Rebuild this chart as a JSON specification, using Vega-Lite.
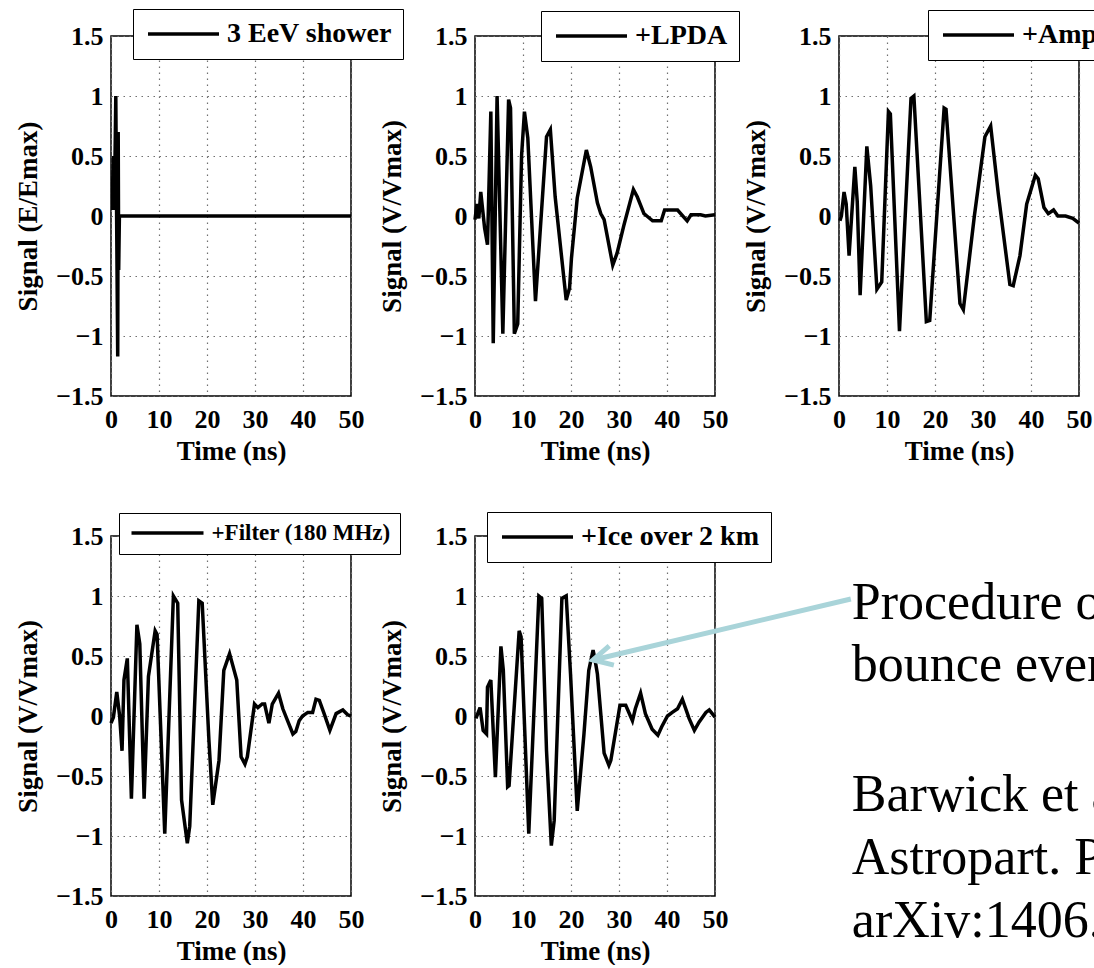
{
  "$schema": "https://vega.github.io/schema/vega-lite/v6.json",
  "background": "white",
  "padding": {"left": 13, "top": 7, "right": 0, "bottom": 0},
  "spacing": 45,
  "resolve": {"scale": {"color": "independent"}, "legend": {"color": "independent"}},
  "config": {
    "font": "Liberation Serif",
    "view": {"stroke": "black", "strokeWidth": 1.5},
    "axis": {
      "labelFont": "Liberation Serif", "labelFontWeight": "bold", "labelFontSize": 26, "labelColor": "black",
      "titleFont": "Liberation Serif", "titleFontWeight": "bold", "titleFontSize": 27, "titleColor": "black",
      "ticks": false, "domain": false, "grid": true, "gridColor": "#707070", "gridDash": [1.5, 4.5], "gridWidth": 1.2,
      "labelFlush": false, "labelOverlap": false
    },
    "axisX": {"labelPadding": 10, "titleBaseline": "alphabetic", "titleY": 63},
    "axisY": {"labelPadding": 8, "titleBaseline": "alphabetic", "titleX": -75},
    "legend": {
      "orient": "none", "title": null, "fillColor": "white", "strokeColor": "black", "padding": 11,
      "symbolType": "stroke", "symbolSize": 5041, "symbolStrokeWidth": 3.5, "symbolOffset": 2,
      "labelFont": "Liberation Serif", "labelFontWeight": "bold", "labelFontSize": 28, "labelColor": "black",
      "labelOffset": 6, "labelLimit": 500, "clipHeight": 28
    }
  },
  "datasets": {
    "shower": [
      {"t": 0, "v": 0.25}, {"t": 0.2, "v": 0.05}, {"t": 0.5, "v": 0.5}, {"t": 0.7, "v": 0.05},
      {"t": 1.0, "v": 1.0}, {"t": 1.15, "v": 0.1}, {"t": 1.4, "v": -1.17}, {"t": 1.5, "v": 0.7},
      {"t": 1.6, "v": -0.45}, {"t": 1.75, "v": 0}, {"t": 2, "v": 0}, {"t": 50, "v": 0}
    ],
    "lpda": [
      {"t": 0, "v": -0.03}, {"t": 0.4, "v": 0.1}, {"t": 0.8, "v": -0.02}, {"t": 1.2, "v": 0.2},
      {"t": 1.6, "v": 0.05}, {"t": 2.0, "v": -0.1}, {"t": 2.6, "v": -0.24}, {"t": 3.3, "v": 0.87},
      {"t": 3.8, "v": -1.06}, {"t": 4.6, "v": 1.0}, {"t": 5.8, "v": -0.98}, {"t": 7.0, "v": 0.97},
      {"t": 7.4, "v": 0.9}, {"t": 8.2, "v": -0.98}, {"t": 8.9, "v": -0.9}, {"t": 9.7, "v": 0.5},
      {"t": 10.3, "v": 0.87}, {"t": 11.0, "v": 0.65}, {"t": 12.6, "v": -0.71}, {"t": 14.9, "v": 0.66},
      {"t": 15.7, "v": 0.72}, {"t": 16.7, "v": 0.16}, {"t": 19.0, "v": -0.7}, {"t": 19.7, "v": -0.6},
      {"t": 20.1, "v": -0.35}, {"t": 21.3, "v": 0.15}, {"t": 23.2, "v": 0.55}, {"t": 24.1, "v": 0.41},
      {"t": 25.5, "v": 0.11}, {"t": 26.2, "v": 0.02}, {"t": 26.9, "v": -0.03}, {"t": 28.7, "v": -0.41},
      {"t": 29.6, "v": -0.31}, {"t": 31.0, "v": -0.08}, {"t": 33.0, "v": 0.22}, {"t": 33.8, "v": 0.16},
      {"t": 35.2, "v": 0.02}, {"t": 35.8, "v": 0}, {"t": 37.0, "v": -0.04}, {"t": 38.8, "v": -0.04},
      {"t": 39.5, "v": 0.05}, {"t": 42.2, "v": 0.05}, {"t": 43.5, "v": -0.01}, {"t": 44.2, "v": -0.04},
      {"t": 45.0, "v": 0.01}, {"t": 47.0, "v": 0.01}, {"t": 48.0, "v": 0.0}, {"t": 50, "v": 0.01}
    ],
    "amp": [
      {"t": 0.2, "v": -0.04}, {"t": 0.5, "v": 0.0}, {"t": 1.05, "v": 0.2}, {"t": 1.5, "v": 0.1},
      {"t": 2.1, "v": -0.33}, {"t": 3.3, "v": 0.41}, {"t": 3.8, "v": 0.12}, {"t": 4.4, "v": -0.66},
      {"t": 5.8, "v": 0.58}, {"t": 6.6, "v": 0.25}, {"t": 7.9, "v": -0.61}, {"t": 8.9, "v": -0.55},
      {"t": 10.3, "v": 0.87}, {"t": 10.7, "v": 0.85}, {"t": 12.6, "v": -0.96}, {"t": 15.0, "v": 0.98},
      {"t": 15.6, "v": 1.0}, {"t": 18.2, "v": -0.88}, {"t": 18.9, "v": -0.87}, {"t": 21.9, "v": 0.9},
      {"t": 22.3, "v": 0.89}, {"t": 25.2, "v": -0.73}, {"t": 25.9, "v": -0.78}, {"t": 28.2, "v": 0.0},
      {"t": 30.4, "v": 0.66}, {"t": 31.6, "v": 0.75}, {"t": 33.2, "v": 0.18}, {"t": 35.6, "v": -0.57},
      {"t": 36.3, "v": -0.58}, {"t": 37.7, "v": -0.33}, {"t": 39.1, "v": 0.1}, {"t": 40.9, "v": 0.34},
      {"t": 41.5, "v": 0.31}, {"t": 42.7, "v": 0.07}, {"t": 43.6, "v": 0.02}, {"t": 44.7, "v": 0.05},
      {"t": 45.6, "v": 0.0}, {"t": 47.2, "v": 0.0}, {"t": 48.7, "v": -0.02}, {"t": 50, "v": -0.06}
    ],
    "filter": [
      {"t": 0, "v": -0.06}, {"t": 0.5, "v": -0.01}, {"t": 1.2, "v": 0.2}, {"t": 1.8, "v": 0.0},
      {"t": 2.3, "v": -0.29}, {"t": 2.7, "v": 0.3}, {"t": 3.4, "v": 0.48}, {"t": 4.25, "v": -0.69},
      {"t": 5.4, "v": 0.76}, {"t": 6.0, "v": 0.6}, {"t": 6.9, "v": -0.69}, {"t": 7.8, "v": 0.33},
      {"t": 9.2, "v": 0.71}, {"t": 9.6, "v": 0.68}, {"t": 11.2, "v": -0.98}, {"t": 13.0, "v": 1.0},
      {"t": 13.9, "v": 0.94}, {"t": 14.7, "v": -0.7}, {"t": 15.9, "v": -1.06}, {"t": 16.4, "v": -0.92},
      {"t": 18.3, "v": 0.96}, {"t": 19.0, "v": 0.94}, {"t": 20.4, "v": -0.2}, {"t": 21.2, "v": -0.74},
      {"t": 22.5, "v": -0.37}, {"t": 23.5, "v": 0.38}, {"t": 24.7, "v": 0.52}, {"t": 26.2, "v": 0.3},
      {"t": 27.1, "v": -0.34}, {"t": 27.9, "v": -0.4}, {"t": 28.4, "v": -0.34}, {"t": 29.9, "v": 0.1},
      {"t": 30.6, "v": 0.07}, {"t": 31.5, "v": 0.1}, {"t": 32.0, "v": 0.1}, {"t": 32.9, "v": -0.06},
      {"t": 33.6, "v": 0.1}, {"t": 34.9, "v": 0.19}, {"t": 35.8, "v": 0.06}, {"t": 36.8, "v": -0.04},
      {"t": 37.9, "v": -0.15}, {"t": 38.5, "v": -0.13}, {"t": 39.2, "v": -0.04}, {"t": 39.9, "v": 0.0},
      {"t": 41.0, "v": 0.03}, {"t": 42.0, "v": 0.03}, {"t": 42.7, "v": 0.14}, {"t": 43.4, "v": 0.13},
      {"t": 44.4, "v": 0.02}, {"t": 45.6, "v": -0.12}, {"t": 46.9, "v": 0.02}, {"t": 48.3, "v": 0.05},
      {"t": 49.3, "v": 0.01}, {"t": 50, "v": 0.0}
    ],
    "ice": [
      {"t": 0.2, "v": -0.02}, {"t": 1.05, "v": 0.07}, {"t": 1.7, "v": -0.12}, {"t": 2.4, "v": -0.15},
      {"t": 2.6, "v": 0.24}, {"t": 3.3, "v": 0.3}, {"t": 4.25, "v": -0.51}, {"t": 5.4, "v": 0.58},
      {"t": 5.9, "v": 0.38}, {"t": 6.8, "v": -0.59}, {"t": 7.1, "v": -0.58}, {"t": 9.2, "v": 0.71},
      {"t": 9.6, "v": 0.66}, {"t": 11.2, "v": -0.98}, {"t": 13.3, "v": 1.0}, {"t": 13.9, "v": 0.98},
      {"t": 14.9, "v": -0.29}, {"t": 15.9, "v": -1.08}, {"t": 16.5, "v": -0.87}, {"t": 18.1, "v": 0.98},
      {"t": 19.0, "v": 1.0}, {"t": 19.9, "v": 0.35}, {"t": 21.3, "v": -0.79}, {"t": 22.7, "v": -0.15},
      {"t": 23.7, "v": 0.38}, {"t": 24.6, "v": 0.55}, {"t": 25.0, "v": 0.47}, {"t": 25.5, "v": 0.35},
      {"t": 26.9, "v": -0.31}, {"t": 27.9, "v": -0.41}, {"t": 28.3, "v": -0.37}, {"t": 30.2, "v": 0.09},
      {"t": 31.4, "v": 0.09}, {"t": 32.8, "v": -0.04}, {"t": 33.4, "v": 0.06}, {"t": 34.5, "v": 0.19},
      {"t": 35.5, "v": 0.02}, {"t": 36.9, "v": -0.11}, {"t": 38.1, "v": -0.16}, {"t": 38.9, "v": -0.09},
      {"t": 40.1, "v": 0.0}, {"t": 41.1, "v": 0.03}, {"t": 42.2, "v": 0.06}, {"t": 43.2, "v": 0.14},
      {"t": 44.6, "v": -0.02}, {"t": 45.7, "v": -0.12}, {"t": 46.7, "v": -0.05}, {"t": 48.1, "v": 0.03},
      {"t": 48.8, "v": 0.05}, {"t": 50, "v": -0.01}
    ],
    "note": [
      {"lines": "Procedure of simulating a"}
    ]
  },
  "vconcat": [
    {
      "bounds": "flush",
      "spacing": 124,
      "resolve": {"scale": {"color": "independent"}, "legend": {"color": "independent"}},
      "hconcat": [
        {
          "width": 240, "height": 360,
          "data": {"name": "shower"},
          "mark": {"type": "line", "strokeWidth": 3.5, "clip": true},
          "encoding": {
            "x": {"field": "t", "type": "quantitative", "scale": {"domain": [0, 50]}, "axis": {"values": [0, 10, 20, 30, 40, 50], "title": "Time (ns)"}},
            "y": {"field": "v", "type": "quantitative", "scale": {"domain": [-1.5, 1.5]}, "axis": {"values": [-1.5, -1, -0.5, 0, 0.5, 1, 1.5], "format": "~g", "title": "Signal (E/Emax)"}},
            "color": {"datum": "3 EeV shower", "type": "nominal", "scale": {"range": ["black"]}, "legend": {"legendX": 22, "legendY": -27}}
          }
        },
        {
          "width": 240, "height": 360,
          "data": {"name": "lpda"},
          "mark": {"type": "line", "strokeWidth": 3.5},
          "encoding": {
            "x": {"field": "t", "type": "quantitative", "scale": {"domain": [0, 50]}, "axis": {"values": [0, 10, 20, 30, 40, 50], "title": "Time (ns)"}},
            "y": {"field": "v", "type": "quantitative", "scale": {"domain": [-1.5, 1.5]}, "axis": {"values": [-1.5, -1, -0.5, 0, 0.5, 1, 1.5], "format": "~g", "title": "Signal (V/Vmax)"}},
            "color": {"datum": "+LPDA", "type": "nominal", "scale": {"range": ["black"]}, "legend": {"legendX": 66, "legendY": -25}}
          }
        },
        {
          "width": 240, "height": 360,
          "data": {"name": "amp"},
          "mark": {"type": "line", "strokeWidth": 3.5},
          "encoding": {
            "x": {"field": "t", "type": "quantitative", "scale": {"domain": [0, 50]}, "axis": {"values": [0, 10, 20, 30, 40, 50], "title": "Time (ns)"}},
            "y": {"field": "v", "type": "quantitative", "scale": {"domain": [-1.5, 1.5]}, "axis": {"values": [-1.5, -1, -0.5, 0, 0.5, 1, 1.5], "format": "~g", "title": "Signal (V/Vmax)"}},
            "color": {"datum": "+Amplifier", "type": "nominal", "scale": {"range": ["black"]}, "legend": {"legendX": 89, "legendY": -26}}
          }
        }
      ]
    },
    {
      "bounds": "flush",
      "spacing": 124,
      "resolve": {"scale": {"color": "independent"}, "legend": {"color": "independent"}},
      "hconcat": [
        {
          "width": 240, "height": 360,
          "data": {"name": "filter"},
          "mark": {"type": "line", "strokeWidth": 3.5},
          "encoding": {
            "x": {"field": "t", "type": "quantitative", "scale": {"domain": [0, 50]}, "axis": {"values": [0, 10, 20, 30, 40, 50], "title": "Time (ns)"}},
            "y": {"field": "v", "type": "quantitative", "scale": {"domain": [-1.5, 1.5]}, "axis": {"values": [-1.5, -1, -0.5, 0, 0.5, 1, 1.5], "format": "~g", "title": "Signal (V/Vmax)"}},
            "color": {"datum": "+Filter (180 MHz)", "type": "nominal", "scale": {"range": ["black"]}, "legend": {"legendX": 8, "legendY": -23, "labelFontSize": 23, "clipHeight": 23, "padding": 8.5, "symbolSize": 5184}}
          }
        },
        {
          "width": 240, "height": 360,
          "layer": [
            {
              "data": {"name": "ice"},
              "mark": {"type": "line", "strokeWidth": 3.5},
              "encoding": {
                "x": {"field": "t", "type": "quantitative", "scale": {"domain": [0, 50], "nice": false, "zero": false}, "axis": {"values": [0, 10, 20, 30, 40, 50], "title": "Time (ns)"}},
                "y": {"field": "v", "type": "quantitative", "scale": {"domain": [-1.5, 1.5], "nice": false, "zero": false}, "axis": {"values": [-1.5, -1, -0.5, 0, 0.5, 1, 1.5], "format": "~g", "title": "Signal (V/Vmax)"}},
                "color": {"datum": "+Ice over 2 km", "type": "nominal", "scale": {"range": ["black"]}, "legend": {"legendX": 12, "legendY": -24}}
              }
            },
            {
              "data": {"name": "note"},
              "mark": {"type": "rule", "color": "#a9d4d9", "strokeWidth": 5, "clip": false},
              "encoding": {
                "x": {"datum": 24.6, "type": "quantitative", "scale": {"domain": [0, 50], "nice": false, "zero": false}},
                "y": {"datum": 0.467, "type": "quantitative", "scale": {"domain": [-1.5, 1.5], "nice": false, "zero": false}},
                "x2": {"datum": 78.3},
                "y2": {"datum": 0.975}
              }
            },
            {
              "data": {"name": "note"},
              "mark": {"type": "point", "shape": "M1,-0.52L0,0L1,0.52", "size": 1444, "angle": 346.5, "filled": false, "stroke": "#a9d4d9", "strokeWidth": 5, "opacity": 1, "strokeJoin": "miter", "clip": false},
              "encoding": {
                "x": {"datum": 24.6, "type": "quantitative", "scale": {"domain": [0, 50], "nice": false, "zero": false}},
                "y": {"datum": 0.467, "type": "quantitative", "scale": {"domain": [-1.5, 1.5], "nice": false, "zero": false}}
              }
            },
            {
              "data": {"name": "note"},
              "mark": {"type": "text", "align": "left", "baseline": "alphabetic", "font": "Liberation Serif", "fontSize": 52, "lineHeight": 62, "color": "black", "clip": false},
              "encoding": {
                "x": {"datum": 78.5, "type": "quantitative", "scale": {"domain": [0, 50], "nice": false, "zero": false}},
                "y": {"datum": 0.808, "type": "quantitative", "scale": {"domain": [-1.5, 1.5], "nice": false, "zero": false}},
                "text": {"value": ["Procedure of simulating a", "bounce event"]}
              }
            },
            {
              "data": {"name": "note"},
              "mark": {"type": "text", "align": "left", "baseline": "alphabetic", "font": "Liberation Serif", "fontSize": 52, "lineHeight": 63, "color": "black", "clip": false},
              "encoding": {
                "x": {"datum": 78.5, "type": "quantitative", "scale": {"domain": [0, 50], "nice": false, "zero": false}},
                "y": {"datum": -0.792, "type": "quantitative", "scale": {"domain": [-1.5, 1.5], "nice": false, "zero": false}},
                "text": {"value": ["Barwick et al.", "Astropart. Phys. 62 (2015)", "arXiv:1406.0820"]}
              }
            }
          ]
        }
      ]
    }
  ]
}
